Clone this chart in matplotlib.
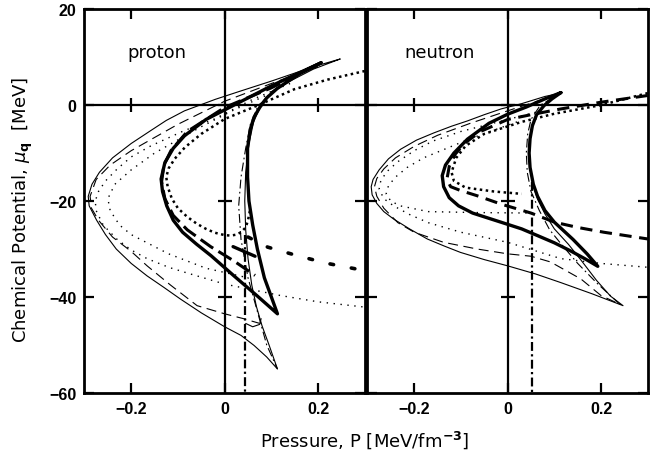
import matplotlib

matplotlib.use("Agg")
import matplotlib.pyplot as plt

plt.rcParams["font.family"] = ["DejaVu Sans"]
plt.rcParams["mathtext.fontset"] = "dejavusans"

# ---- proton panel: (pressure, chemical potential) traces ----
p_thin_x = [0.247, 0.19, 0.1, 0.03, -0.02, -0.086, -0.125, -0.158, -0.2, -0.24, -0.268,
            -0.284, -0.292, -0.29, -0.274, -0.255, -0.232, -0.2, -0.166, -0.13, -0.095,
            -0.05, 0.0, 0.035, 0.063, 0.09, 0.113,
            0.095, 0.08, 0.068, 0.058, 0.05, 0.045, 0.043, 0.045, 0.052, 0.062, 0.078,
            0.1, 0.14, 0.19, 0.247]
p_thin_y = [9.6, 8.0, 5.0, 2.8, 1.2, -1.2, -3.2, -5.3, -8.0, -11.0, -14.0,
            -16.5, -19.0, -21.0, -24.0, -27.0, -30.0, -33.0, -35.6, -38.0, -40.4,
            -43.3, -46.2, -48.0, -50.1, -52.5, -55.0,
            -50.0, -46.0, -42.0, -37.5, -32.0, -26.0, -20.0, -14.0, -8.0, -3.5, 0.0,
            2.5, 5.0, 7.5, 9.6]

p_thick_x = [0.206, 0.15, 0.1, 0.05, 0.0, -0.04, -0.086, -0.11, -0.128, -0.136, -0.133,
             -0.124, -0.11, -0.09, -0.06, -0.029, 0.02, 0.07, 0.113,
             0.1, 0.085, 0.07, 0.06, 0.052, 0.049, 0.049, 0.055, 0.063, 0.075, 0.09,
             0.113, 0.16, 0.206]
p_thick_y = [8.8, 6.3, 4.0, 1.5, -1.0, -3.0, -6.4, -9.0, -12.0, -15.4, -18.0,
             -21.0, -24.0, -26.5, -29.0, -31.4, -35.6, -39.8, -43.5,
             -40.0, -36.0, -30.0, -25.0, -20.0, -15.0, -9.0, -5.0, -2.5, -0.5, 1.5,
             3.5, 6.5, 8.8]

p_thickdash_x = [0.2, 0.1, 0.0, -0.08, -0.115, -0.13, -0.135, -0.128, -0.11, -0.08, -0.03,
                 0.02, 0.065]
p_thickdash_y = [8.5, 3.6, -0.5, -5.5, -9.5, -12.5, -16.0, -19.5, -23.0, -26.0, -29.5,
                 -32.5, -35.5]
p_thickbar_x = [0.018, 0.065]
p_thickbar_y = [-29.5, -31.5]

p_longdash_x = [0.2, 0.1, 0.0, -0.1, -0.2, -0.245, -0.275, -0.288, -0.285, -0.27, -0.24,
                -0.2, -0.166, -0.116, -0.059, 0.0, 0.04, 0.075]
p_longdash_y = [8.0, 4.5, 0.8, -4.0, -9.5, -12.5, -15.5, -19.0, -21.5, -24.0, -27.5,
                -30.5, -33.5, -37.5, -41.8, -43.5, -44.5, -45.5]
p_hook_x = [0.045, 0.06, 0.075, 0.078]
p_hook_y = [-45.5, -46.2, -45.7, -44.5]

p_dashdot_x = [0.21, 0.15, 0.1, 0.07, 0.055, 0.045, 0.035, 0.03, 0.035, 0.05, 0.07, 0.09,
               0.113]
p_dashdot_y = [9.0, 6.0, 2.8, -0.5, -4.0, -9.0, -15.0, -21.0, -28.0, -36.0, -43.0, -50.0,
               -55.0]

p_dot1_x = [0.14, 0.06, -0.022, -0.086, -0.158, -0.2, -0.23, -0.255, -0.27, -0.277, -0.275,
            -0.26, -0.23, -0.2, -0.166, -0.12, -0.08, 0.0, 0.06, 0.12, 0.2, 0.3]
p_dot1_y = [4.5, 1.2, -2.9, -5.3, -8.5, -10.8, -13.3, -15.8, -18.0, -20.0, -22.0,
            -25.0, -28.0, -30.2, -32.0, -33.8, -35.0, -37.3, -38.5, -39.7, -41.0, -42.1]
p_dot2_x = [0.1, 0.02, -0.05, -0.15, -0.2, -0.235, -0.25, -0.245, -0.225, -0.2, -0.16, -0.12,
            -0.04, 0.05]
p_dot2_y = [2.5, -1.0, -4.5, -10.0, -13.5, -16.5, -19.5, -22.0, -25.0, -27.0, -29.0, -31.0,
            -34.0, -36.0]

p_heavydot_x = [0.3, 0.22, 0.149, 0.07, 0.0, -0.05, -0.085, -0.107, -0.12, -0.125, -0.122,
                -0.113, -0.1, -0.08, -0.06, -0.04, -0.021, 0.0, 0.013, 0.025, 0.035, 0.045,
                0.05, 0.055]
p_heavydot_y = [7.1, 5.3, 3.3, -0.1, -2.9, -6.0, -8.8, -11.2, -13.2, -15.0, -17.0,
                -19.5, -21.5, -23.3, -24.7, -25.8, -26.6, -27.1, -27.2, -27.0, -26.5, -25.5,
                -24.0, -21.5]
p_bigdot_x = [0.05, 0.092, 0.156, 0.22, 0.3]
p_bigdot_y = [-27.5, -29.6, -31.4, -33.0, -34.5]

p_vert_x = [0.044, 0.044]
p_vert_y = [-27.0, -60.0]

# ---- neutron panel ----
n_thin_x = [0.114, 0.08, 0.03, -0.014, -0.05, -0.086, -0.12, -0.158, -0.195, -0.229,
            -0.255, -0.275, -0.288, -0.292, -0.29, -0.28, -0.265, -0.244, -0.21, -0.172,
            -0.135, -0.101, -0.05, 0.0, 0.06, 0.114, 0.18, 0.247,
            0.22, 0.19, 0.157, 0.13, 0.1, 0.08, 0.064, 0.054, 0.048, 0.046, 0.05, 0.058,
            0.075, 0.095, 0.114]
n_thin_y = [2.5, 1.8, 0.3, -0.8, -2.0, -3.3, -4.4, -5.8, -7.3, -9.2,
            -11.2, -13.5, -15.5, -17.0, -18.7, -20.5, -22.2, -23.75, -25.8, -27.9,
            -29.4, -30.7, -32.2, -33.5, -35.2, -37.0, -39.3, -41.8,
            -39.8, -36.5, -32.3, -29.0, -25.8, -22.7, -19.6, -16.5, -13.0, -9.5, -5.5, -2.8,
            -0.3, 1.3, 2.5]

n_thick_x = [0.114, 0.08, 0.04, 0.0, -0.04, -0.086, -0.115, -0.133, -0.14, -0.137, -0.125,
             -0.105, -0.075, -0.04, -0.008, 0.03, 0.064, 0.1, 0.135, 0.165, 0.193,
             0.17, 0.14, 0.1, 0.08, 0.064, 0.055, 0.048, 0.046, 0.048, 0.053, 0.062,
             0.078, 0.095, 0.114]
n_thick_y = [2.6, 1.3, -0.4, -1.9, -3.8, -7.1, -10.0, -12.5, -14.7, -17.0, -19.3,
             -21.0, -22.5, -23.6, -24.6, -25.8, -27.2, -28.7, -30.4, -32.0, -33.6,
             -31.0, -28.0, -24.4, -22.0, -19.0, -16.5, -13.0, -10.0, -7.0, -4.3, -2.0,
             -0.1, 1.3, 2.6]

n_heavydash_x = [0.3, 0.2, 0.114, 0.05, 0.0, -0.058, -0.09, -0.112, -0.125, -0.13, -0.122,
                 -0.101, -0.065, -0.015, 0.05, 0.1, 0.15, 0.206, 0.3]
n_heavydash_y = [2.0, 0.6, -0.8, -2.0, -3.0, -5.5, -7.8, -10.2, -12.8, -15.5, -17.0,
                 -17.8, -18.9, -20.6, -22.5, -24.4, -25.5, -26.5, -27.9]

n_longdash_x = [0.11, 0.0, -0.08, -0.15, -0.2, -0.24, -0.265, -0.28, -0.285, -0.28, -0.265,
                -0.235, -0.2, -0.137, -0.065, 0.0, 0.05, 0.092, 0.157, 0.2, 0.24]
n_longdash_y = [2.3, -1.2, -3.8, -6.3, -8.6, -11.0, -13.3, -15.3, -17.0, -19.0, -21.5,
                -24.5, -26.5, -28.6, -30.0, -31.0, -31.5, -32.7, -36.25, -39.7, -41.5]

n_dashdot_x = [0.24, 0.19, 0.15, 0.115, 0.09, 0.068, 0.05, 0.042, 0.04, 0.043, 0.05,
               0.07, 0.11]
n_dashdot_y = [-41.5, -37.0, -33.0, -29.0, -26.0, -22.0, -18.0, -14.0, -10.0, -6.0, -3.0,
               0.0, 2.3]

n_dot1_x = [0.06, 0.0, -0.1, -0.16, -0.2, -0.235, -0.26, -0.272, -0.275, -0.265, -0.244,
            -0.21, -0.17, -0.1, 0.0, 0.114, 0.2, 0.3]
n_dot1_y = [-1.5, -3.0, -5.5, -7.5, -9.5, -11.8, -14.0, -16.0, -17.5, -19.5, -21.0,
            -22.8, -24.5, -26.5, -28.6, -32.0, -33.0, -33.8]
n_dot2_x = [0.02, -0.08, -0.18, -0.215, -0.24, -0.255, -0.26, -0.25, -0.23, -0.17, -0.065,
            0.05]
n_dot2_y = [-3.5, -7.0, -11.0, -13.0, -15.0, -16.8, -18.5, -20.0, -21.0, -22.2, -22.4,
            -22.5]

n_medot_x = [0.3, 0.2, 0.1, 0.03, -0.05, -0.09, -0.11, -0.12, -0.115, -0.09, -0.03, 0.03]
n_medot_y = [2.5, 0.0, -1.8, -3.5, -6.0, -8.5, -11.0, -14.0, -15.8, -17.2, -18.0, -18.5]

n_vert_x = [0.052, 0.052]
n_vert_y = [-16.0, -60.0]

x_ticks = [-0.2, 0.0, 0.2]
x_tick_labels = ["\u22120.2", "0", "0.2"]
y_ticks = [-60, -40, -20, 0, 20]
y_tick_labels = ["\u221260", "\u221240", "\u221220", "0", "20"]
panel_names = ["proton", "neutron"]

THIN = dict(color="black", lw=0.8)
THICK = dict(color="black", lw=2.4)
THICKDASH = dict(color="black", lw=2.2, dashes=(5, 2))
LONGDASH = dict(color="black", lw=0.8, dashes=(9, 5))
DASHDOT = dict(color="black", lw=0.8, dashes=(8, 3, 1.5, 3))
THINDOT = dict(color="black", lw=1.0, dashes=(1, 4))
HEAVYDOT = dict(color="black", lw=1.8, dashes=(1, 1.4))
BIGDOT = dict(color="black", lw=2.6, dashes=(1, 5), dash_capstyle="round")
HEAVYDASH = dict(color="black", lw=2.2, dashes=(4, 2.5))
VERT = dict(color="black", lw=1.6, dashes=(4, 1.5, 1, 1.5))

proton_traces = [
    (p_dot1_x, p_dot1_y, THINDOT),
    (p_dot2_x, p_dot2_y, THINDOT),
    (p_thin_x, p_thin_y, THIN),
    (p_longdash_x, p_longdash_y, LONGDASH),
    (p_hook_x, p_hook_y, THIN),
    (p_dashdot_x, p_dashdot_y, DASHDOT),
    (p_heavydot_x, p_heavydot_y, HEAVYDOT),
    (p_bigdot_x, p_bigdot_y, BIGDOT),
    (p_thickdash_x, p_thickdash_y, THICKDASH),
    (p_thickbar_x, p_thickbar_y, THICK),
    (p_thick_x, p_thick_y, THICK),
    (p_vert_x, p_vert_y, VERT),
]
neutron_traces = [
    (n_dot1_x, n_dot1_y, THINDOT),
    (n_dot2_x, n_dot2_y, THINDOT),
    (n_thin_x, n_thin_y, THIN),
    (n_longdash_x, n_longdash_y, LONGDASH),
    (n_dashdot_x, n_dashdot_y, DASHDOT),
    (n_medot_x, n_medot_y, HEAVYDOT),
    (n_heavydash_x, n_heavydash_y, HEAVYDASH),
    (n_thick_x, n_thick_y, THICK),
    (n_vert_x, n_vert_y, VERT),
]

fig = plt.figure(figsize=(6.55, 4.6), dpi=100)
ax_l = fig.add_axes([0.129, 0.1435, 0.428, 0.8345])
ax_r = fig.add_axes([0.561, 0.1435, 0.428, 0.8345])

tick_font = dict(family="Liberation Sans", fontweight="bold", fontsize=11.5)

for ax, traces, name in [(ax_l, proton_traces, panel_names[0]),
                         (ax_r, neutron_traces, panel_names[1])]:
    for xs, ys, st in traces:
        ax.plot(xs, ys, solid_joinstyle="round", solid_capstyle="round", **st)
    ax.set_xlim(-0.3, 0.3)
    ax.set_ylim(-60, 20)
    ax.axhline(0, color="black", lw=1.6, zorder=5)
    ax.axvline(0, color="black", lw=1.6, zorder=5)
    # tick marks sitting on the zero lines
    ax.plot([-0.2, 0.2], [0, 0], ls="none", marker="|", ms=10, mew=1.6, color="black", zorder=6)
    ax.plot([0, 0, 0], [-40, -20, 0], ls="none", marker="_", ms=10, mew=1.6,
            color="black", zorder=6)
    ax.set_xticks(x_ticks)
    ax.set_xticklabels(x_tick_labels, **tick_font)
    ax.set_yticks(y_ticks)
    ax.tick_params(direction="in", length=7, width=1.6, top=True, right=True, pad=6)
    for sp in ax.spines.values():
        sp.set_linewidth(2.0)
    ax.text(-0.145, 11.0, name, fontsize=13, ha="center", va="center")

ax_l.set_yticklabels(y_tick_labels, **tick_font)
ax_r.set_yticklabels([])
ax_l.set_ylabel(r"Chemical Potential, $\mu_\mathbf{q}$  [MeV]", fontsize=13)
ax_l.yaxis.set_label_coords(-0.175, 0.48)
fig.text(0.557, 0.043, r"Pressure, P [MeV/fm$^{\mathbf{-3}}$]", fontsize=13,
         ha="center", va="center")

fig.savefig("out.png", dpi=100)
